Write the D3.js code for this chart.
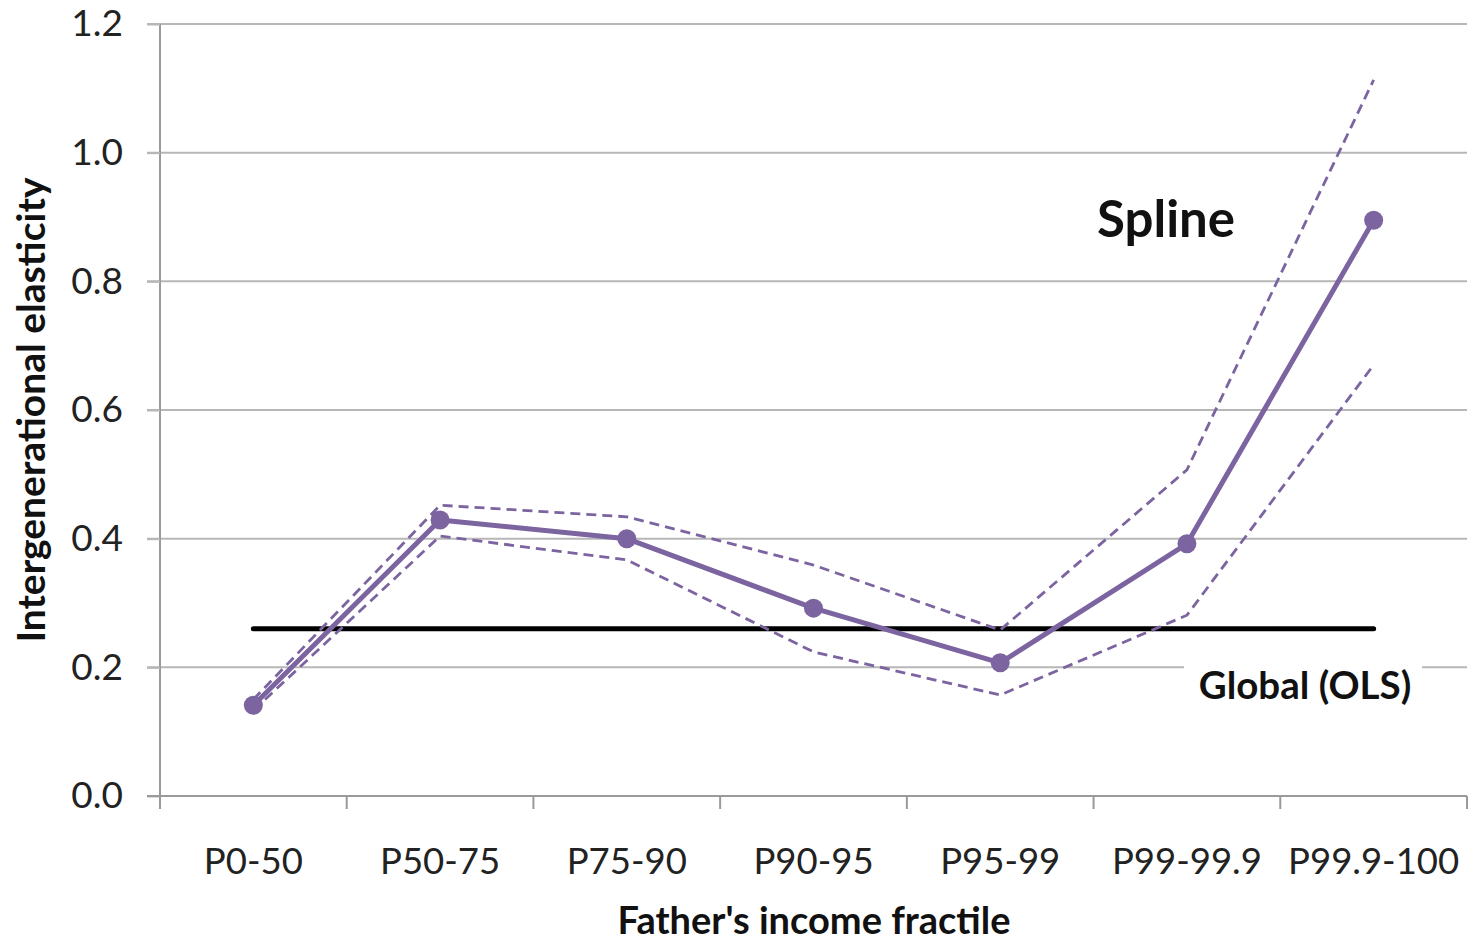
<!DOCTYPE html>
<html><head><meta charset="utf-8">
<script src="https://cdn.jsdelivr.net/npm/d3@7"></script>
<style>
html,body{margin:0;padding:0;background:#fff;}
svg{display:block;font-family:Lato, "Open Sans", sans-serif;}
</style></head>
<body>
<svg id="c" width="1469" height="944"></svg>
<script>
const categories = ["P0-50","P50-75","P75-90","P90-95","P95-99","P99-99.9","P99.9-100"];
const spline = [0.141, 0.429, 0.400, 0.292, 0.207, 0.392, 0.895];
const upperCI = [0.150, 0.452, 0.434, 0.359, 0.258, 0.507, 1.113];
const lowerCI = [0.133, 0.404, 0.367, 0.224, 0.157, 0.281, 0.670];
const globalOLS = 0.26;
const yTicks = [0.0, 0.2, 0.4, 0.6, 0.8, 1.0, 1.2];

const svg = d3.select("#c");
const L = 160, R = 1467, T = 24, B = 796;
const x = d3.scaleBand().domain(categories).range([L, R]);
const y = d3.scaleLinear().domain([0, 1.2]).range([B, T]);
const cx = d => x(d) + x.bandwidth() / 2;
const purple = "#7b64a0", grid = "#b7b7b7";

// gridlines
svg.append("g").selectAll("line").data(yTicks.filter(t => t > 0)).join("line")
  .attr("x1", 147).attr("x2", R).attr("y1", d => y(d)).attr("y2", d => y(d))
  .attr("stroke", grid).attr("stroke-width", 2);

// y axis
const yAxis = d3.axisLeft(y).tickValues(yTicks).tickFormat(d3.format(".1f")).tickSize(13).tickPadding(24);
const gy = svg.append("g").attr("transform", `translate(${L},0)`).call(yAxis);
gy.select(".domain").attr("stroke", "#9a9a9a").attr("stroke-width", 2).attr("d", `M0,${T}V${B}`);
gy.selectAll(".tick line").attr("stroke", grid).attr("stroke-width", 2);
gy.selectAll(".tick text").attr("font-size", 37).attr("fill", "#222").attr("font-family", "Lato, sans-serif");

// x axis
const xb = d3.scaleLinear().domain([0, categories.length]).range([L, R]);
const gx = svg.append("g").attr("transform", `translate(0,${B})`);
gx.append("line").attr("x1", 147).attr("x2", R).attr("stroke", "#9a9a9a").attr("stroke-width", 2);
gx.selectAll("line.tk").data(d3.range(categories.length + 1)).join("line").attr("class", "tk")
  .attr("x1", d => xb(d)).attr("x2", d => xb(d)).attr("y1", 0).attr("y2", 13)
  .attr("stroke", "#9a9a9a").attr("stroke-width", 2);
gx.selectAll("text").data(categories).join("text")
  .attr("x", d => cx(d)).attr("y", 78).attr("text-anchor", "middle")
  .attr("font-size", 36.5).attr("fill", "#222").text(d => d);

// titles
svg.append("text").attr("x", 814).attr("y", 934).attr("text-anchor", "middle")
  .attr("font-size", 38).attr("font-weight", "bold").attr("fill", "#111").text("Father's income fractile");
svg.append("text").attr("transform", "translate(45,410) rotate(-90)").attr("text-anchor", "middle")
  .attr("font-size", 39).attr("font-weight", "bold").attr("fill", "#111").text("Intergenerational elasticity");

// Global OLS label box
svg.append("rect").attr("x", 1184).attr("y", 655).attr("width", 238).attr("height", 56).attr("fill", "#fff");
svg.append("text").attr("x", 1305).attr("y", 699).attr("text-anchor", "middle")
  .attr("font-size", 38.5).attr("font-weight", "bold").attr("fill", "#111").text("Global (OLS)");

// OLS line
svg.append("line").attr("x1", cx(categories[0])).attr("x2", cx(categories[categories.length - 1]))
  .attr("y1", y(globalOLS)).attr("y2", y(globalOLS))
  .attr("stroke", "#000").attr("stroke-width", 5).attr("stroke-linecap", "round");

const line = d3.line().x((d, i) => cx(categories[i])).y(d => y(d));
[upperCI, lowerCI].forEach(s => {
  svg.append("path").attr("d", line(s)).attr("fill", "none").attr("stroke", purple)
    .attr("stroke-width", 2.8).attr("stroke-dasharray", "10,6");
});
svg.append("path").attr("d", line(spline)).attr("fill", "none").attr("stroke", purple)
  .attr("stroke-width", 5).attr("stroke-linejoin", "round");
svg.append("g").selectAll("circle").data(spline).join("circle")
  .attr("cx", (d, i) => cx(categories[i])).attr("cy", d => y(d)).attr("r", 9.5).attr("fill", purple);

svg.append("text").attr("x", 1097).attr("y", 237).attr("font-size", 51).attr("font-weight", "bold")
  .attr("fill", "#111").text("Spline");
</script>
</body></html>
